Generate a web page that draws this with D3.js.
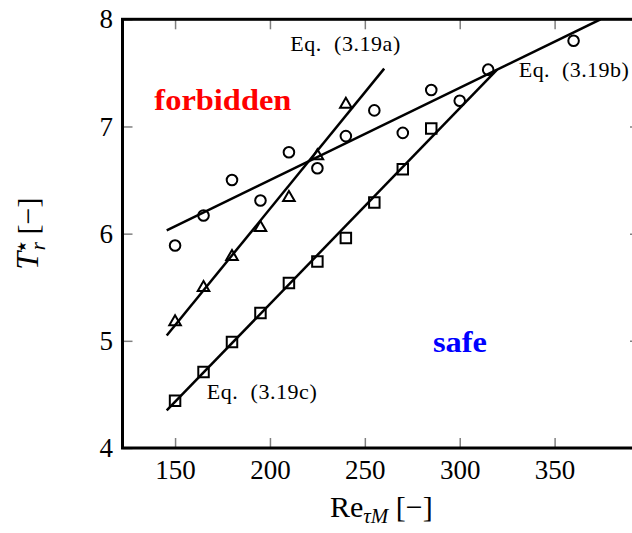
<!DOCTYPE html>
<html><head><meta charset="utf-8">
<script src="https://cdn.jsdelivr.net/npm/d3@7"></script>
<style>
html,body{margin:0;padding:0;background:#fff;overflow:hidden}
svg{display:block}
text{font-family:"Liberation Serif","Times New Roman",serif;white-space:pre}
</style></head><body>
<svg id="chart" width="632" height="533"></svg>
<script>
// ---- data ----
const xTicks = [150, 200, 250, 300, 350];
const yTicks = [4, 5, 6, 7, 8];
const reTriangle = [150, 165, 180, 195, 210, 225, 240];
const tTriangle  = [5.19, 5.51, 5.80, 6.07, 6.35, 6.74, 7.22];
const reCircle = [150, 165, 180, 195, 210, 225, 240, 255, 270, 285, 300, 315, 360];
const tCircle  = [5.89, 6.17, 6.50, 6.31, 6.76, 6.61, 6.91, 7.15, 6.94, 7.34, 7.24, 7.53, 7.80];
const reSquare = [150, 165, 180, 195, 210, 225, 240, 255, 270, 285];
const tSquare  = [4.44, 4.71, 4.99, 5.26, 5.54, 5.74, 5.96, 6.29, 6.60, 6.98];
const reEqA = [145.6, 260.2], tEqA = [5.05, 7.54];
const reEqB = [145.6, 374.2], tEqB = [6.03, 8.00];
const reEqC = [145.6, 319.7], tEqC = [4.35, 7.53];
const eqNames = ["Eq. (3.19a)", "Eq. (3.19b)", "Eq. (3.19c)"];
const regionNames = ["forbidden", "safe"];

// ---- layout ----
const L = 122.5, R = 640, T = 19.3, B = 448;
const x = d3.scaleLinear().domain([122.3, 395]).range([L, R]);
const y = d3.scaleLinear().domain([4, 8]).range([B, T]);
const svg = d3.select("#chart");
const FONT = '"Liberation Serif","Times New Roman",serif';

function styleAxis(g, fs) {
  g.select(".domain").remove();
  g.selectAll(".tick line").attr("stroke", "#808080").attr("stroke-width", 1.5);
  g.attr("font-family", FONT).attr("font-size", fs);
  g.selectAll(".tick text").attr("fill", "#000");
}
svg.append("g").attr("transform", `translate(0,${B})`)
  .call(d3.axisBottom(x).tickValues(xTicks).tickSize(-10).tickPadding(11.5).tickFormat(d3.format("d")))
  .call(g => styleAxis(g, 27));
svg.append("g").attr("transform", `translate(0,${T})`)
  .call(d3.axisTop(x).tickValues(xTicks).tickSize(-10).tickFormat(""))
  .call(g => styleAxis(g, 27));
svg.append("g").attr("transform", `translate(${L},0)`)
  .call(d3.axisLeft(y).tickValues(yTicks).tickSize(-10).tickPadding(9.5).tickFormat(d3.format("d")))
  .call(g => styleAxis(g, 27));
svg.append("g").attr("transform", `translate(${R},0)`)
  .call(d3.axisRight(y).tickValues(yTicks).tickSize(-10).tickFormat(""))
  .call(g => styleAxis(g, 27));

// clip
svg.append("clipPath").attr("id", "clip").append("rect")
  .attr("x", L).attr("y", T).attr("width", R - L).attr("height", B - T);
const plot = svg.append("g").attr("clip-path", "url(#clip)");

// fit lines
const line = d3.line().x(d => x(d[0])).y(d => y(d[1]));
[[reEqA, tEqA], [reEqB, tEqB], [reEqC, tEqC]].forEach(([rx, ty]) => {
  plot.append("path").datum(d3.zip(rx, ty)).attr("d", line)
    .attr("fill", "none").attr("stroke", "#000").attr("stroke-width", 2.5);
});

// markers
plot.selectAll("circle.c").data(d3.zip(reCircle, tCircle)).join("circle")
  .attr("cx", d => x(d[0])).attr("cy", d => y(d[1])).attr("r", 5.3)
  .attr("fill", "none").attr("stroke", "#000").attr("stroke-width", 2);
plot.selectAll("path.s").data(d3.zip(reSquare, tSquare)).join("path").attr("class", "s")
  .attr("transform", d => `translate(${x(d[0])},${y(d[1])})`)
  .attr("d", d3.symbol(d3.symbolSquare, 110))
  .attr("fill", "none").attr("stroke", "#000").attr("stroke-width", 2);
plot.selectAll("path.t").data(d3.zip(reTriangle, tTriangle)).join("path").attr("class", "t")
  .attr("transform", d => `translate(${x(d[0])},${y(d[1]) + 1.5})`)
  .attr("d", d3.symbol(d3.symbolTriangle, 58))
  .attr("fill", "none").attr("stroke", "#000").attr("stroke-width", 2);

// frame
svg.append("rect").attr("x", L).attr("y", T).attr("width", R - L).attr("height", B - T)
  .attr("fill", "none").attr("stroke", "#000").attr("stroke-width", 3);

// equation annotations
const eqPos = [[210.7, 7.70], [331.1, 7.465], [166.7, 4.455]];
eqNames.forEach((s, i) => {
  svg.append("text").attr("x", x(eqPos[i][0])).attr("y", y(eqPos[i][1]))
    .attr("font-size", 22).attr("textLength", 110).attr("lengthAdjust", "spacing")
    .attr("fill", "#000").text(s.replace(". ", ".  "));
});

// region labels
const regPos = [[139.1, 7.154, "#ff0000", 137], [285.9, 4.899, "#0000ff", 54]];
regionNames.forEach((s, i) => {
  svg.append("text").attr("x", x(regPos[i][0])).attr("y", y(regPos[i][1]))
    .attr("font-size", 30).attr("font-weight", "bold").attr("fill", regPos[i][2])
    .attr("textLength", regPos[i][3]).attr("lengthAdjust", "spacingAndGlyphs").text(s);
});

// axis titles
const xl = svg.append("text").attr("x", (L + R) / 2).attr("y", 516.7)
  .attr("text-anchor", "middle").attr("font-size", 30).attr("fill", "#000");
xl.append("tspan").text("Re");
xl.append("tspan").attr("dy", 6).attr("font-size", 21).attr("font-style", "italic").text("τM");
xl.append("tspan").attr("dy", -6).text(" [−]");

const yl = svg.append("text").attr("transform", `translate(37.5,${(T + B) / 2}) rotate(-90)`)
  .attr("text-anchor", "middle").attr("font-size", 32).attr("fill", "#000");
yl.append("tspan").attr("font-style", "italic").text("T");
yl.append("tspan").attr("dy", -12).attr("font-size", 12).attr("font-family", "DejaVu Sans").text("\u2605");
yl.append("tspan").attr("dx", -9).attr("dy", 19).attr("font-size", 21).attr("font-style", "italic").text("r");
yl.append("tspan").attr("dy", -7).attr("font-size", 30).text(" [\u2212]");
</script>
</body></html>
